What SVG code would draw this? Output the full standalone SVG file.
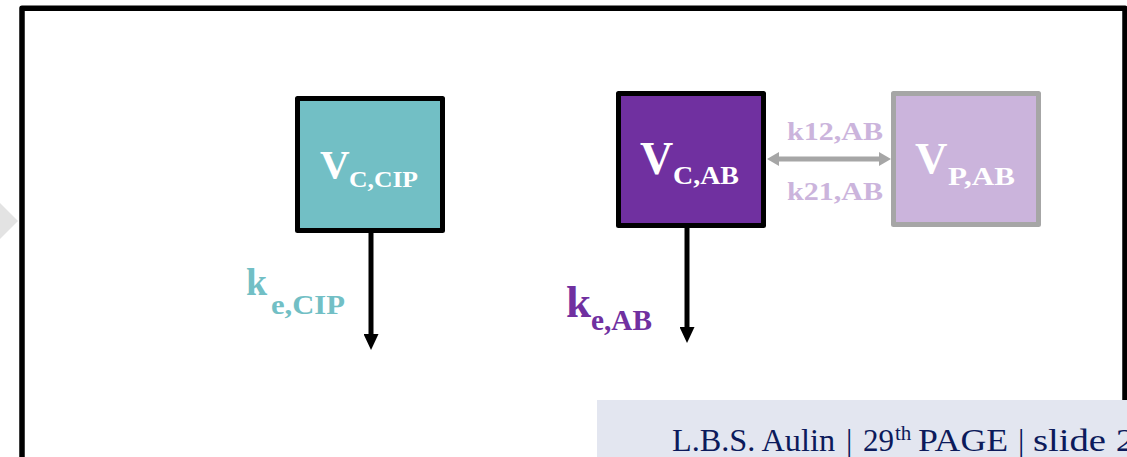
<svg xmlns="http://www.w3.org/2000/svg" width="1127" height="457" viewBox="0 0 1127 457">
<style>
.t{font-family:"Liberation Serif","Times New Roman",serif;font-weight:bold}
.w{fill:#ffffff}
.box{stroke-width:5;stroke-linejoin:round}
.foot{font-family:"Liberation Serif","Times New Roman",serif;fill:#0c1a5b;font-size:32px}
</style>
<defs>
<marker id="ah" markerUnits="userSpaceOnUse" viewBox="0 0 16 15" markerWidth="16" markerHeight="15" refX="8" refY="7.5" orient="auto">
<path d="M0,0 L16,7.5 L0,15 z" fill="#000000"/>
</marker>
<marker id="gh" markerUnits="userSpaceOnUse" viewBox="0 0 12 14" markerWidth="12" markerHeight="14" refX="3" refY="7" orient="auto-start-reverse">
<path d="M0,0 L12,7 L0,14 z" fill="#a6a6a6"/>
</marker>
</defs>
<rect x="0" y="0" width="1127" height="457" fill="#ffffff"/>
<polygon points="0,203 18,221 0,239" fill="#e3e3e3"/>
<rect x="22" y="8.3" width="1103" height="520" fill="none" stroke="#000000" stroke-width="5.5" stroke-linejoin="round"/>
<g id="connectors">
<line x1="371" y1="233" x2="371" y2="342" stroke="#000000" stroke-width="5" marker-end="url(#ah)"/>
<line x1="687" y1="228" x2="687" y2="335" stroke="#000000" stroke-width="5" marker-end="url(#ah)"/>
<line x1="776" y1="159" x2="882" y2="159" stroke="#a6a6a6" stroke-width="5" marker-start="url(#gh)" marker-end="url(#gh)"/>
<text class="t" x="787" y="140" font-size="25" fill="#cbb4dc" textLength="96" lengthAdjust="spacingAndGlyphs">k12,AB</text>
<text class="t" x="787" y="200" font-size="25" fill="#cbb4dc" textLength="96" lengthAdjust="spacingAndGlyphs">k21,AB</text>
<text class="t" x="246" y="295" font-size="38" fill="#72bfc5">k</text>
<text class="t" x="271" y="314" font-size="27" fill="#72bfc5" textLength="74" lengthAdjust="spacingAndGlyphs">e,CIP</text>
<text class="t" x="566" y="317" font-size="45" fill="#7030a0">k</text>
<text class="t" x="591" y="330" font-size="29" fill="#7030a0" textLength="61" lengthAdjust="spacingAndGlyphs">e,AB</text>
</g>
<g id="node-vc-cip">
<rect class="box" x="297.5" y="98.5" width="145" height="132" fill="#72bfc5" stroke="#000000"/>
<text class="t w" x="320" y="178" font-size="41">V</text>
<text class="t w" x="349" y="187" font-size="24" textLength="69" lengthAdjust="spacingAndGlyphs">C,CIP</text>
</g>
<g id="node-vc-ab">
<rect class="box" x="618.5" y="93.5" width="145" height="132" fill="#7030a0" stroke="#000000"/>
<text class="t w" x="640" y="174" font-size="46">V</text>
<text class="t w" x="673" y="184" font-size="25" textLength="66" lengthAdjust="spacingAndGlyphs">C,AB</text>
</g>
<g id="node-vp-ab">
<rect class="box" x="893.5" y="93.5" width="145" height="131" fill="#cbb4dc" stroke="#a6a6a6"/>
<text class="t w" x="915" y="173" font-size="45">V</text>
<text class="t w" x="948" y="185" font-size="25" textLength="67" lengthAdjust="spacingAndGlyphs">P,AB</text>
</g>
<g id="footer">
<rect x="597" y="400" width="530" height="57" fill="#e3e6f0"/>
<text class="foot" y="451"><tspan x="672" textLength="163" lengthAdjust="spacingAndGlyphs">L.B.S. Aulin</tspan><tspan x="846">|</tspan><tspan x="863" textLength="31" lengthAdjust="spacingAndGlyphs">29</tspan><tspan x="895" y="440" font-size="21">th</tspan><tspan x="918" y="451" textLength="90" lengthAdjust="spacingAndGlyphs">PAGE</tspan><tspan x="1018">|</tspan><tspan x="1033" textLength="102" lengthAdjust="spacingAndGlyphs">slide 2</tspan></text>
</g>
</svg>
